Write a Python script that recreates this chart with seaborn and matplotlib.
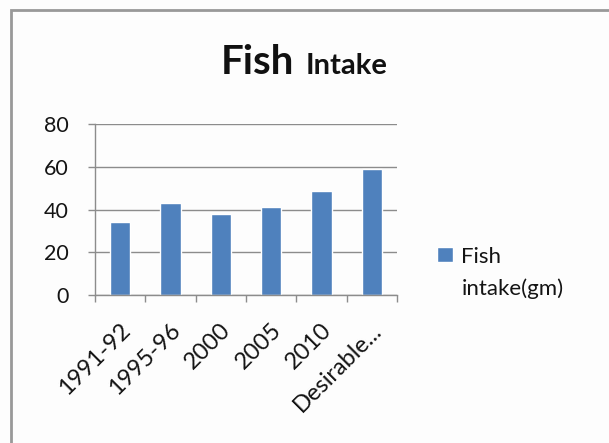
import matplotlib
matplotlib.use("Agg")
import matplotlib.pyplot as plt
import seaborn as sns
import pandas as pd
from matplotlib.transforms import ScaledTranslation
from matplotlib.patches import Rectangle

# ---- data ----
categories = ["1991-92", "1995-96", "2000", "2005", "2010", "Desirable..."]
values = [34, 43, 38, 41, 48.5, 59]
series_name = "Fish\nintake(gm)"
yticks = [0, 20, 40, 60, 80]
title_main = "Fish"
title_sub = "Intake"

sns.set_theme(style="white")
plt.rcParams["font.family"] = ["Lato", "DejaVu Sans"]

BLUE = "#4F81BD"
GRID = "#8c8c8c"
TXT = "#141414"

fig = plt.figure(figsize=(6.09, 4.43), dpi=100, facecolor="#fdfdfd")
ax = fig.add_axes([95 / 609, 1 - 295 / 443, (397 - 95) / 609, (295 - 124) / 443])
ax.set_facecolor("#fdfdfd")

df = pd.DataFrame({"period": categories, "intake": values})
sns.barplot(data=df, x="period", y="intake", color=BLUE, saturation=1,
            width=0.4, ax=ax, label=series_name)

ax.set_ylim(0, 80)
ax.set_yticks(yticks)
ax.set_xlim(-0.5, len(categories) - 0.5)
ax.yaxis.grid(True, color=GRID, lw=1)
ax.set_axisbelow(True)
for s in ["top", "right"]:
    ax.spines[s].set_visible(False)
for s in ["left", "bottom"]:
    ax.spines[s].set_color(GRID)
    ax.spines[s].set_linewidth(1)

ax.tick_params(axis="y", left=True, length=5, color=GRID, width=1, pad=14,
               labelsize=15.5, labelcolor=TXT)

ax.set_xticks([i - 0.5 for i in range(len(categories) + 1)])
ax.set_xticklabels([])
ax.set_xticks(range(len(categories)), minor=True)
ax.set_xticklabels(categories, minor=True, rotation=45, ha="right",
                   va="center", rotation_mode="anchor")
ax.tick_params(axis="x", which="major", bottom=True, length=5, color=GRID,
               width=1, direction="out")
ax.tick_params(axis="x", which="minor", bottom=True, length=0, pad=0,
               labelsize=17, labelcolor=TXT)
off = ScaledTranslation(0.065, -0.32, fig.dpi_scale_trans)
for lbl in ax.get_xticklabels(minor=True):
    lbl.set_transform(lbl.get_transform() + off)
ax.set_xlabel("")
ax.set_ylabel("")

leg = ax.legend(loc="center left", bbox_to_anchor=(437 / 609, 1 - 273 / 443),
                bbox_transform=fig.transFigure, frameon=False, fontsize=16,
                handlelength=0.7, handleheight=0.7, handletextpad=0.4,
                borderpad=0, borderaxespad=0, labelcolor=TXT)
for t in leg.get_texts():
    t.set_linespacing(1.65)
for h in leg.legend_handles:
    h.set_y(h.get_y() + 13.5)

fig.text(221 / 609, 1 - 74 / 443, title_main, fontsize=29, fontweight="bold",
         ha="left", va="baseline", color="#111111")
fig.text(306 / 609, 1 - 74 / 443, title_sub, fontsize=21, fontweight="bold",
         ha="left", va="baseline", color="#111111")

fig.add_artist(Rectangle((11 / 609, -0.1), 1.2, 1 - 10 / 443 + 0.1,
                         transform=fig.transFigure, fill=False,
                         ec="#999999", lw=2))

fig.savefig("out.png", dpi=100, facecolor=fig.get_facecolor())
